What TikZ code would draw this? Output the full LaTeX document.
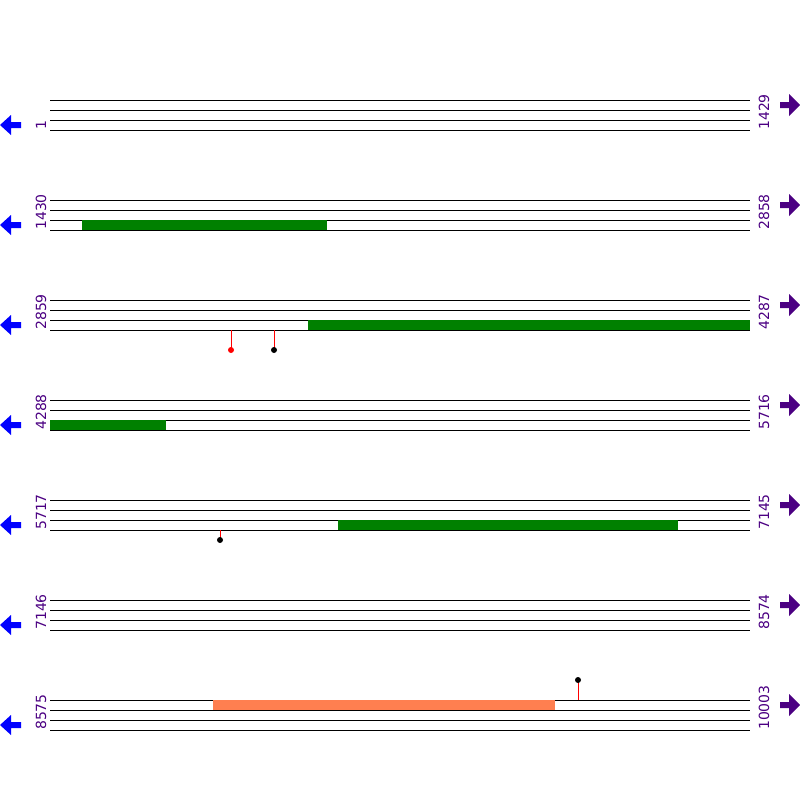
\documentclass[tikz,border=0pt]{standalone}
\usepackage{fontspec}
\setmainfont{DejaVu Sans}
\usetikzlibrary{positioning}
\definecolor{StrandBlue}{RGB}{0,0,255}
\definecolor{StrandPurple}{RGB}{75,0,130}
\definecolor{FeatGreen}{RGB}{0,128,0}
\definecolor{FeatCoral}{RGB}{255,127,80}
\tikzset{
  track/.style={draw=black, line width=1pt},
  greenbar/.style={fill=FeatGreen},
  coralbar/.style={fill=FeatCoral},
  stalk/.style={draw=red, line width=1pt},
  poslabel/.style={
    text=StrandPurple,
    font=\fontsize{14}{14}\selectfont,
    rotate=90,
    anchor=west,
    inner sep=0pt
  },
  leftarrow/.style={fill=StrandBlue},
  rightarrow/.style={fill=StrandPurple}
}

\begin{document}
\begin{tikzpicture}[x=1pt, y=-1pt]
  \useasboundingbox (0,0) rectangle (800,800);

  % One block of four tracks per 1429 positions, with strand arrows and ends.
  \foreach \i/\s/\e in {1/1/1429, 2/1430/2858, 3/2859/4287, 4/4288/5716,
                        5/5717/7145, 6/7146/8574, 7/8575/10003} {
    \pgfmathsetmacro{\y}{100*\i}
    \foreach \k in {0,10,20,30}
      \draw[track] (50,\y+\k) -- (750,\y+\k);
    \node[poslabel] (start\i) at (41,\y+30) {\s};
    \node[poslabel] (end\i) at (764,\y+30) {\e};
    \fill[leftarrow] (0,\y+25) -- (11,\y+15) -- (11,\y+22) -- (21,\y+22)
      -- (21,\y+28) -- (11,\y+28) -- (11,\y+35) -- cycle;
    \fill[rightarrow] (800,\y+5) -- (789,\y-6) -- (789,\y+2) -- (780,\y+2)
      -- (780,\y+8) -- (789,\y+8) -- (789,\y+16) -- cycle;
  }

  % Features
  \fill[greenbar] (82,220) rectangle (327,230);
  \fill[greenbar] (308,320) rectangle (750,330);
  \fill[greenbar] (50,420) rectangle (166,430);
  \fill[greenbar] (338,520) rectangle (678,530);
  \fill[coralbar] (213,700) rectangle (555,710);

  % Sites
  \draw[stalk] (231,330) -- (231,350);
  \fill[red] (231,350) circle (3pt);
  \draw[stalk] (274,330) -- (274,350);
  \fill[black] (274,350) circle (3pt);
  \draw[stalk] (220,530) -- (220,540);
  \fill[black] (220,540) circle (3pt);
  \draw[stalk] (578,700) -- (578,680);
  \fill[black] (578,680) circle (3pt);
\end{tikzpicture}
\end{document}
